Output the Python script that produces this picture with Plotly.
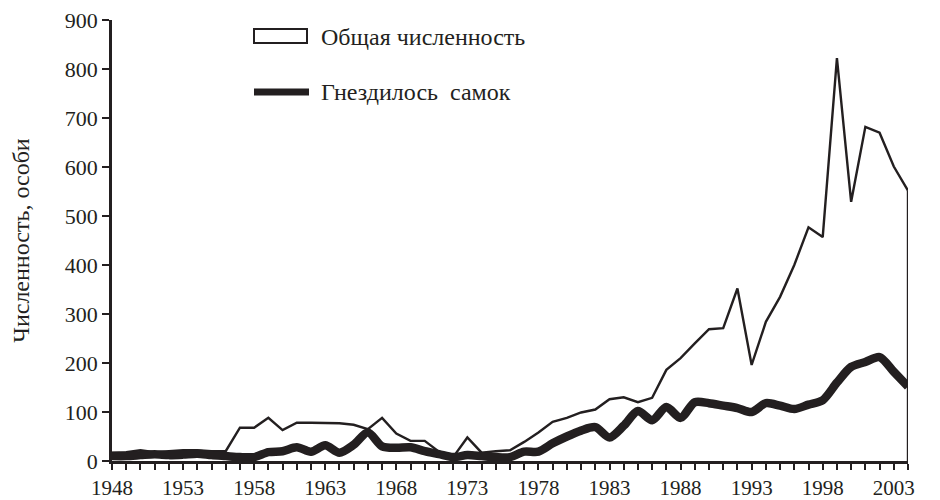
import plotly.graph_objects as go

# ---------------- data ----------------
years = list(range(1948, 2005))

total = [17, 18, 22, 18, 20, 22, 22, 20, 20, 68,
         68, 88, 63, 78, 78, 77, 77, 74, 65, 88,
         56, 41, 41, 19, 8, 48, 17, 20, 22, 39,
         58, 80, 88, 99, 105, 126, 130, 120, 129, 186,
         210, 240, 269, 271, 352, 196, 284, 335, 400, 477,
         457, 822, 529, 682, 670, 601, 552]

females = [10, 10, 12, 14, 12, 13, 15, 12, 10, 8,
           8, 18, 20, 28, 19, 32, 17, 33, 58, 30,
           27, 28, 20, 14, 8, 12, 10, 8, 8, 19,
           19, 36, 50, 62, 69, 48, 72, 102, 83, 110,
           88, 120, 118, 113, 108, 100, 118, 113, 106, 115,
           124, 160, 192, 202, 212, 182, 152]

label_years = [1948, 1953, 1958, 1963, 1968, 1973, 1978, 1983, 1988, 1993, 1998, 2003]

name_total = "Общая численность"
name_females = "Гнездилось  самок"
y_title = "Численность, особи"

# ---------------- figure ----------------
INK = "#231f20"
FONT = "Liberation Serif"

fig = go.Figure()

fig.add_trace(go.Scatter(
    x=years, y=total, mode="lines", name=name_total,
    line=dict(color=INK, width=2.4),
    fill="tozeroy", fillcolor="rgba(255,255,255,0)",
    showlegend=False,
))
fig.add_trace(go.Scatter(
    x=years, y=females, mode="lines", name=name_females,
    line=dict(color=INK, width=8.5, shape="spline", smoothing=0.8),
    showlegend=False,
))

# closing edge of the area series at its last year
fig.add_shape(type="line", xref="x", yref="y",
              x0=years[-1], x1=years[-1], y0=0, y1=total[-1],
              line=dict(color=INK, width=2.4))

ticktext = [str(y) if y in label_years else "" for y in years]

fig.update_xaxes(
    range=[years[0], years[-1]],
    tickmode="array", tickvals=years, ticktext=ticktext,
    ticks="outside", ticklen=6, tickwidth=2, tickcolor=INK,
    showline=True, linewidth=2.5, linecolor=INK,
    showgrid=False, zeroline=False, automargin=False,
    ticklabeloverflow="allow",
    tickfont=dict(family=FONT, size=21, color=INK),
)
fig.update_yaxes(
    range=[0, 900], dtick=100,
    ticks="outside", ticklen=7, tickwidth=2, tickcolor=INK,
    showline=True, linewidth=2.5, linecolor=INK,
    showgrid=False, zeroline=False, automargin=False,
    ticklabeloverflow="allow",
    tickfont=dict(family=FONT, size=22, color=INK),
    title=dict(text=y_title, font=dict(family=FONT, size=24, color=INK), standoff=30),
)

# custom legend (box for total, thick line for females)
# helpers convert page pixels to paper fractions of the plot area (112..908, 20..461)
def px_x(p):
    return (p - 112) / 796.0

def px_y(p):
    return (461 - p) / 441.0

fig.add_shape(type="rect", xref="paper", yref="paper",
              x0=px_x(254), x1=px_x(307), y0=px_y(43), y1=px_y(29),
              line=dict(color=INK, width=2), fillcolor="white")
fig.add_shape(type="line", xref="paper", yref="paper",
              x0=px_x(254), x1=px_x(309), y0=px_y(92), y1=px_y(92),
              line=dict(color=INK, width=7))
fig.add_annotation(xref="paper", yref="paper", x=px_x(320), y=px_y(37),
                   text=name_total, showarrow=False, xanchor="left", yanchor="middle",
                   borderpad=0, font=dict(family=FONT, size=24, color=INK))
fig.add_annotation(xref="paper", yref="paper", x=px_x(320), y=px_y(92),
                   text=name_females, showarrow=False, xanchor="left", yanchor="middle",
                   borderpad=0, font=dict(family=FONT, size=24, color=INK))

# page body has an 8px margin: size/margins chosen so the plot area lands at 112..908, 20..461
fig.update_layout(
    width=932, height=492,
    margin=dict(l=104, r=32, t=12, b=39, autoexpand=False),
    paper_bgcolor="white", plot_bgcolor="white",
    showlegend=False,
    font=dict(family=FONT, color=INK),
)

fig.write_html("out.html")
